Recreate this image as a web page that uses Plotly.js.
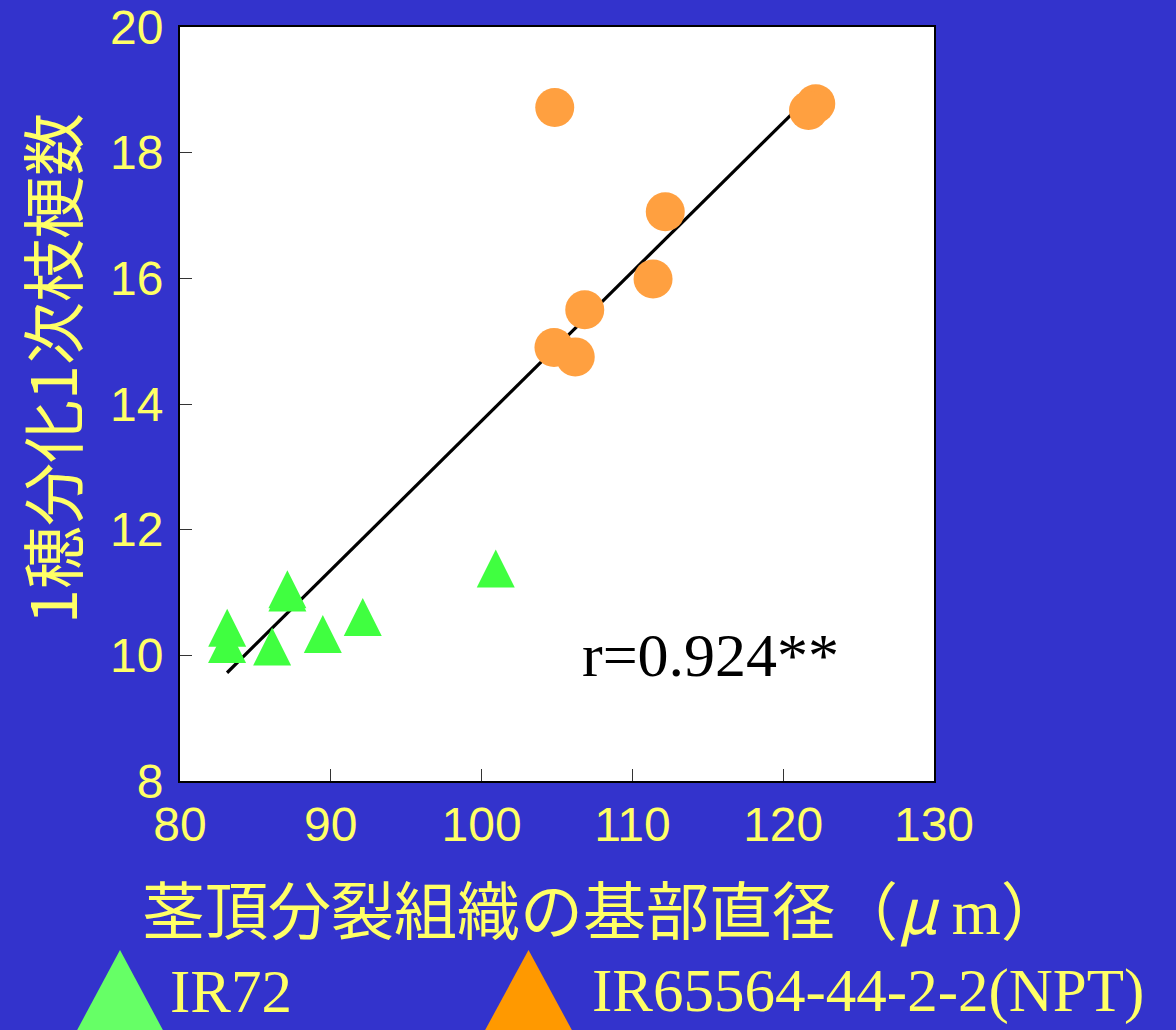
<!DOCTYPE html>
<html>
<head>
<meta charset="utf-8">
<script src="https://cdn.plot.ly/plotly-3.0.1.min.js"></script>
<style>html,body{margin:0;padding:0;background:#3333CC;}</style>
</head>
<body>
<div id="chart" style="width:1176px;height:1030px;"></div>
<script>
// ---- data ----
const seriesNames = ['IR72', 'IR65564-44-2-2(NPT)'];
const ir72X = [83.13, 83.12, 87.12, 87.12, 86.11, 89.47, 92.12, 100.94];
const ir72Y = [10.44, 10.18, 11.05, 11.00, 10.14, 10.34, 10.61, 11.38];
const nptX = [104.85, 122.16, 121.68, 112.18, 111.37, 106.84, 104.80, 106.21];
const nptY = [18.72, 18.78, 18.67, 17.06, 15.99, 15.50, 14.90, 14.75];
const xTickVals = [80, 90, 100, 110, 120, 130];
const yTickVals = [8, 10, 12, 14, 16, 18, 20];
const xRange = [80, 130];
const yRange = [8, 20];
const corrLabel = 'r=0.924**';
const xTitleText = '茎頂分裂組織の基部直径（<i>μ</i> <span style="font-family:\'Liberation Serif\',\'Times New Roman\',serif">m</span>）';
const yTitleText = '1穂分化1次枝梗数';

// ---- least squares regression over all points ----
const allX = ir72X.concat(nptX);
const allY = ir72Y.concat(nptY);
const n = allX.length;
const mx = allX.reduce((a, b) => a + b, 0) / n;
const my = allY.reduce((a, b) => a + b, 0) / n;
let sxy = 0, sxx = 0;
for (let i = 0; i < n; i++) { sxy += (allX[i] - mx) * (allY[i] - my); sxx += (allX[i] - mx) ** 2; }
const slope = sxy / sxx;
const icpt = my - slope * mx;
const xmin = Math.min(...allX), xmax = Math.max(...allX);
const fitX = [xmin, xmax];
const fitY = fitX.map(v => icpt + slope * v);

// ---- layout geometry ----
const W = 1176, H = 1030;
const M = {l: 180, r: 242, t: 27, b: 249};
const PW = W - M.l - M.r, PH = H - M.t - M.b;
const px = x => (x - M.l) / PW;
const py = y => (H - M.b - y) / PH;

const yellow = '#FFFF66';
const tickFont = {family: "'Liberation Sans', Arial, sans-serif", size: 48, color: yellow};
const serif = "'Liberation Serif', 'Times New Roman', serif";
const cjk = "'Noto Sans CJK JP', 'Noto Sans CJK SC', sans-serif";

const traces = [
  {x: fitX, y: fitY, mode: 'lines', line: {color: '#000000', width: 3.2}, hoverinfo: 'skip', showlegend: false},
  {x: ir72X, y: ir72Y, mode: 'markers', name: seriesNames[0],
   marker: {symbol: 'arrow-down', angle: 180, standoff: 19, size: 38, color: '#40FF40', line: {width: 0}}},
  {x: nptX, y: nptY, mode: 'markers', name: seriesNames[1],
   marker: {symbol: 'circle', size: 39, color: '#FFA040', line: {width: 0}}}
];

function triPath(cx, top, bottom, half) {
  return 'M' + px(cx - half) + ',' + py(bottom) + ' L' + px(cx + half) + ',' + py(bottom) +
         ' L' + px(cx) + ',' + py(top) + ' Z';
}

const axisCommon = {
  ticks: 'inside', ticklen: 12, tickwidth: 1, tickcolor: '#333333',
  showline: true, linecolor: '#000000', linewidth: 2, mirror: true,
  showgrid: false, zeroline: false, tickfont: tickFont, fixedrange: true
};

const layout = {
  width: W, height: H,
  margin: {l: M.l, r: M.r, t: M.t, b: M.b, pad: 0},
  paper_bgcolor: '#3333CC', plot_bgcolor: '#FFFFFF',
  showlegend: false,
  xaxis: Object.assign({}, axisCommon, {range: xRange, tickvals: xTickVals, ticktext: xTickVals.map(String), ticklabelstandoff: 0}),
  yaxis: Object.assign({}, axisCommon, {range: yRange, tickvals: yTickVals, ticktext: yTickVals.map(String), ticklabelstandoff: 5}),
  shapes: [
    {type: 'path', xref: 'paper', yref: 'paper', path: triPath(120, 950, 1034, 45), fillcolor: '#66FF66', line: {width: 0}},
    {type: 'path', xref: 'paper', yref: 'paper', path: triPath(528.5, 950, 1034, 45.5), fillcolor: '#FF9900', line: {width: 0}}
  ],
  annotations: [
    {text: corrLabel, xref: 'paper', yref: 'paper', x: px(710), y: py(655), xanchor: 'center', yanchor: 'middle',
     showarrow: false, font: {family: serif, size: 62, color: '#000000'}},
    {text: xTitleText, xref: 'paper', yref: 'paper', x: px(140), y: py(906), xanchor: 'left', yanchor: 'middle',
     showarrow: false, font: {family: cjk, size: 63, color: yellow}},
    {text: yTitleText, xref: 'paper', yref: 'paper', x: px(49), y: py(369), xanchor: 'center', yanchor: 'middle',
     textangle: -90, showarrow: false, font: {family: cjk, size: 63, color: yellow}},
    {text: seriesNames[0], xref: 'paper', yref: 'paper', x: px(168), y: py(991), xanchor: 'left', yanchor: 'middle',
     showarrow: false, font: {family: serif, size: 61, color: yellow}},
    {text: seriesNames[1], xref: 'paper', yref: 'paper', x: px(590), y: py(991), xanchor: 'left', yanchor: 'middle',
     showarrow: false, font: {family: serif, size: 61, color: yellow}}
  ]
};

Plotly.newPlot('chart', traces, layout, {staticPlot: true, displayModeBar: false});
</script>
</body>
</html>
